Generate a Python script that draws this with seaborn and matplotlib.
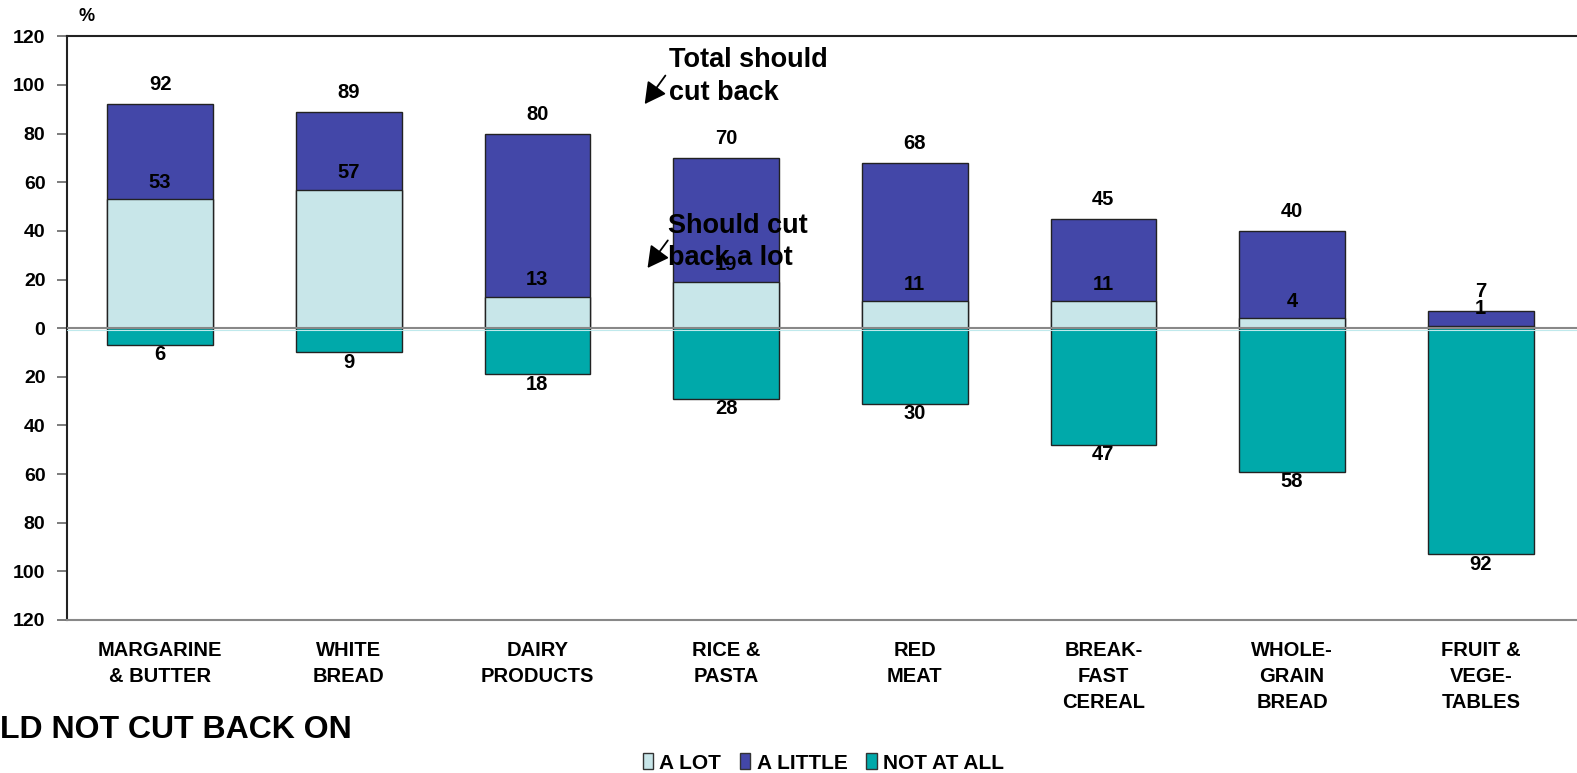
import numpy as np
import pandas as pd
import seaborn as sns
import matplotlib.pyplot as plt
from matplotlib.patches import Patch

categorias = ["MARGARINE\n& BUTTER", "WHITE\nBREAD", "DAIRY\nPRODUCTS", "RICE &\nPASTA",
              "RED\nMEAT", "BREAK-\nFAST\nCEREAL", "WHOLE-\nGRAIN\nBREAD", "FRUIT &\nVEGE-\nTABLES"]
a_lot = [53, 57, 13, 19, 11, 11, 4, 1]
total_cut = [92, 89, 80, 70, 68, 45, 40, 7]
not_at_all = [6, 9, 18, 28, 30, 47, 58, 92]
y_ticks = [-120, -100, -80, -60, -40, -20, 0, 20, 40, 60, 80, 100, 120]

cor_lot = "#c8e6e9"
cor_little = "#4347a8"
cor_not = "#00a9aa"

df = pd.DataFrame({"cat": categorias, "lot": a_lot, "total": total_cut,
                   "nao": [-v - 1 for v in not_at_all]})

sns.set_style("white")
plt.rcParams['font.family'] = ['Liberation Sans', 'DejaVu Sans']
plt.rcParams['font.weight'] = 'bold'
plt.rcParams['text.color'] = 'black'
plt.rcParams['xtick.color'] = 'black'
plt.rcParams['ytick.color'] = 'black'

fig = plt.figure(figsize=(15.77, 7.73), dpi=100)
ax = fig.add_axes([0.0425, 0.198, 0.9575, 0.755])

kw = dict(width=0.56, edgecolor="#222222", linewidth=1.0, ax=ax)
sns.barplot(data=df, x="cat", y="total", color=cor_little, saturation=1, **kw)
sns.barplot(data=df, x="cat", y="lot", color=cor_lot, saturation=1, **kw)
sns.barplot(data=df, x="cat", y="nao", color=cor_not, saturation=1, **kw)

ax.axhline(0, color="#888888", lw=1.5, zorder=5)
ax.axhline(-0.7, color="#bfe9ec", lw=0.8, zorder=4)

# rotulos
for i in range(len(categorias)):
    ax.text(i, total_cut[i] + 8, str(total_cut[i]), ha="center", va="center",
            fontsize=14.5, fontweight="bold", zorder=10)
    ax.text(i, a_lot[i] + 7, str(a_lot[i]), ha="center", va="center",
            fontsize=14.5, fontweight="bold", zorder=10)
    ax.text(i, -not_at_all[i] - 5, str(not_at_all[i]), ha="center", va="center",
            fontsize=14.5, fontweight="bold", zorder=10)

ax.set_xlim(-0.493, 7.51)
ax.set_ylim(-120, 120)
ax.set_yticks(y_ticks)
ax.set_yticklabels([str(abs(t)) for t in y_ticks], fontsize=14, fontweight="bold")
ax.set_xticks(range(len(categorias)))
ax.set_xticklabels(categorias, fontsize=14.5, fontweight="bold", linespacing=1.45)
ax.set_xlabel("")
ax.set_ylabel("")
ax.tick_params(axis="y", left=True, length=7, width=1.2, color="#666666", pad=8.5, labelcolor="black")
ax.tick_params(axis="x", bottom=False, pad=12, labelcolor="black")

for s in ["top", "left"]:
    ax.spines[s].set_color("#222222")
    ax.spines[s].set_linewidth(1.5)
ax.spines["bottom"].set_color("#888888")
ax.spines["bottom"].set_linewidth(1.5)
ax.spines["right"].set_visible(False)

# anotacoes
seta = dict(arrowstyle="-|>,head_length=1.3,head_width=0.7", color="black", lw=1.3)
ax.text(2.70, 103.4, "Total should\ncut back", fontsize=19.5, fontweight="bold",
        va="center", ha="left", linespacing=1.35, zorder=12)
ax.annotate("", xy=(2.56, 91.2), xytext=(2.687, 104.8), arrowprops=seta)
ax.text(2.69, 35.6, "Should cut\nback a lot", fontsize=19.5, fontweight="bold",
        va="center", ha="left", linespacing=1.3, zorder=12)
ax.annotate("", xy=(2.575, 23.8), xytext=(2.70, 37.0), arrowprops=seta)

fig.text(0.0495, 0.979, "%", fontsize=13, fontweight="bold", ha="left", va="center")
fig.text(0.0, 0.056, "LD NOT CUT BACK ON", fontsize=23, fontweight="bold", ha="left", va="center")

handles = [Patch(facecolor=cor_lot, edgecolor="#333333", label="A LOT"),
           Patch(facecolor=cor_little, edgecolor="#333333", label="A LITTLE"),
           Patch(facecolor=cor_not, edgecolor="#333333", label="NOT AT ALL")]
fig.legend(handles=handles, loc="center", bbox_to_anchor=(0.522, 0.013), ncol=3, frameon=False,
           prop=dict(size=15, weight="bold"), handlelength=0.5, handleheight=0.8,
           handletextpad=0.3, columnspacing=0.9)

plt.savefig("out.png", dpi=100)
